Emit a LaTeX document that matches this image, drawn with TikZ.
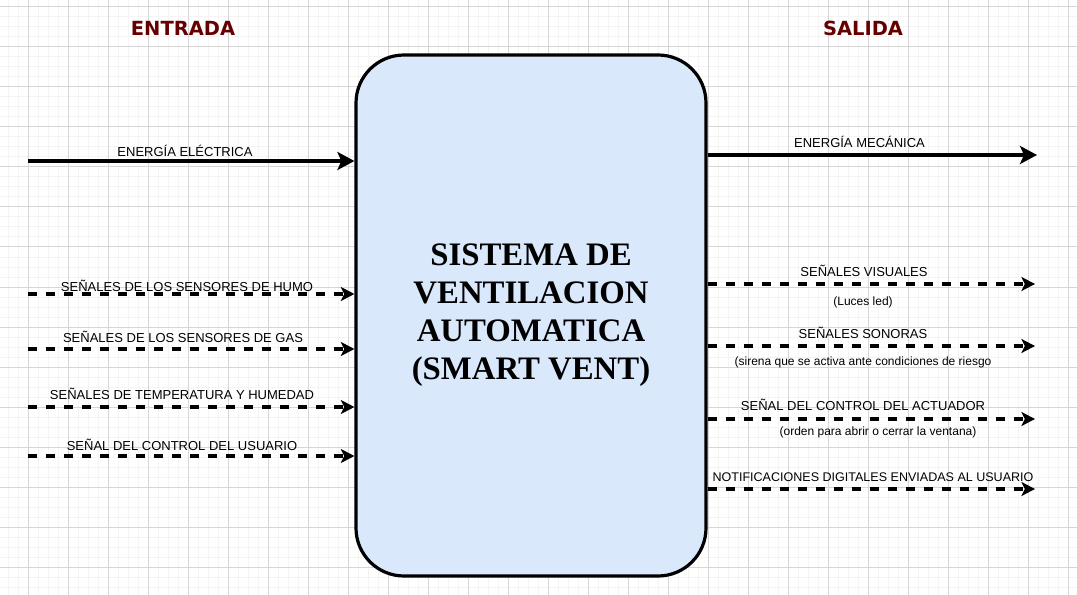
\documentclass[tikz,border=0pt]{standalone}
\usepackage{fontspec}
\setmainfont{Liberation Sans}
\newfontfamily\boxfont{Liberation Serif}
\newfontfamily\titlefont{DejaVu Sans}
\usetikzlibrary{arrows.meta}
\definecolor{gridmajor}{RGB}{214,214,214}
\definecolor{gridminor}{RGB}{244,244,244}
\definecolor{boxfill}{RGB}{218,232,252}
\definecolor{titlered}{RGB}{102,0,0}
\tikzset{
  minorline/.style={gridminor, line width=0.75pt},
  majorline/.style={gridmajor, line width=0.75pt},
  sysbox/.style={draw=black, line width=2.4pt, fill=boxfill, rounded corners=36pt,
    minimum width=262.5pt, minimum height=390.75pt, align=center,
    font=\boxfont\bfseries\fontsize{24.6}{28.5}\selectfont, inner sep=0pt},
  title/.style={text=titlered, font=\titlefont\bfseries\fontsize{14.6}{18}\selectfont},
  lbl/.style={font=\fontsize{9.75}{11}\selectfont, inner sep=0pt},
  sublbl/.style={font=\fontsize{9}{10}\selectfont, inner sep=0pt},
  solidarrow/.style={line width=2.9pt, -{Stealth[length=12.75pt, width=13.5pt, inset=3pt]}},
  dasharrow/.style={line width=2.6pt, dash pattern=on 6.75pt off 6.75pt,
    -{Stealth[length=10.2pt, width=10.5pt, inset=2.6pt]}},
}
\begin{document}
\begin{tikzpicture}[x=0.75pt, y=-0.75pt]
\useasboundingbox (0,0) rectangle (1077,595);
\fill[white] (0,0) rectangle (1077,595);
% grid
\foreach \x in {8,18,...,1078} \draw[minorline] (\x,0) -- (\x,595);
\foreach \y in {7,17,...,595} \draw[minorline] (0,\y) -- (1077,\y);
\foreach \x in {28,68,...,1078} \draw[majorline] (\x,0) -- (\x,595);
\foreach \y in {7,47,...,595} \draw[majorline] (0,\y) -- (1077,\y);

% titles
\node[title] (tin) at (183,28) {ENTRADA};
\node[title] (tout) at (863,28) {SALIDA};

% central box
\node[sysbox] (box) at (531,315.5) {SISTEMA DE\\VENTILACION\\AUTOMATICA\\(SMART VENT)};

% input coordinates
\coordinate (ie) at (28,161);
\coordinate (i1) at (28,294);
\coordinate (i2) at (28,349);
\coordinate (i3) at (28,407);
\coordinate (i4) at (28,456);
% output coordinates
\coordinate (oe) at (1037,155);
\coordinate (o1) at (1035,284);
\coordinate (o2) at (1035,346);
\coordinate (o3) at (1035,419);
\coordinate (o4) at (1035,489);

% arrows
\draw[solidarrow] (ie) -- (ie -| box.west);
\draw[dasharrow] (i1) -- (i1 -| box.west);
\draw[dasharrow] (i2) -- (i2 -| box.west);
\draw[dasharrow] (i3) -- (i3 -| box.west);
\draw[dasharrow] (i4) -- (i4 -| box.west);
\draw[solidarrow] (box.east |- oe) -- (oe);
\draw[dasharrow] (box.east |- o1) -- (o1);
\draw[dasharrow] (box.east |- o2) -- (o2);
\draw[dasharrow] (box.east |- o3) -- (o3);
\draw[dasharrow] (box.east |- o4) -- (o4);

% labels
\node[lbl] (le) at (185,150.5) {ENERGÍA ELÉCTRICA};
\node[lbl] (l1) at (187,286) {SEÑALES DE LOS SENSORES DE HUMO};
\node[lbl] (l2) at (183,336.5) {SEÑALES DE LOS SENSORES DE GAS};
\node[lbl] (l3) at (182,394) {SEÑALES DE TEMPERATURA Y HUMEDAD};
\node[lbl] (l4) at (182,445) {SEÑAL DEL CONTROL DEL USUARIO};

\node[lbl] (re) at (859.5,142) {ENERGÍA MECÁNICA};
\node[lbl] (r1) at (864,270.5) {SEÑALES VISUALES};
\node[sublbl] (r1b) at (863,302) {(Luces led)};
\node[lbl] (r2) at (863,333) {SEÑALES SONORAS};
\node[sublbl] (r2b) at (863,362) {(sirena que se activa ante condiciones de riesgo};
\node[lbl] (r3) at (863,405) {SEÑAL DEL CONTROL DEL ACTUADOR};
\node[sublbl] (r3b) at (878,432) {(orden para abrir o cerrar la ventana)};
\node[lbl, font=\fontsize{9.4}{11}\selectfont] (r4) at (873,477.5) {NOTIFICACIONES DIGITALES ENVIADAS AL USUARIO};
\end{tikzpicture}
\end{document}
